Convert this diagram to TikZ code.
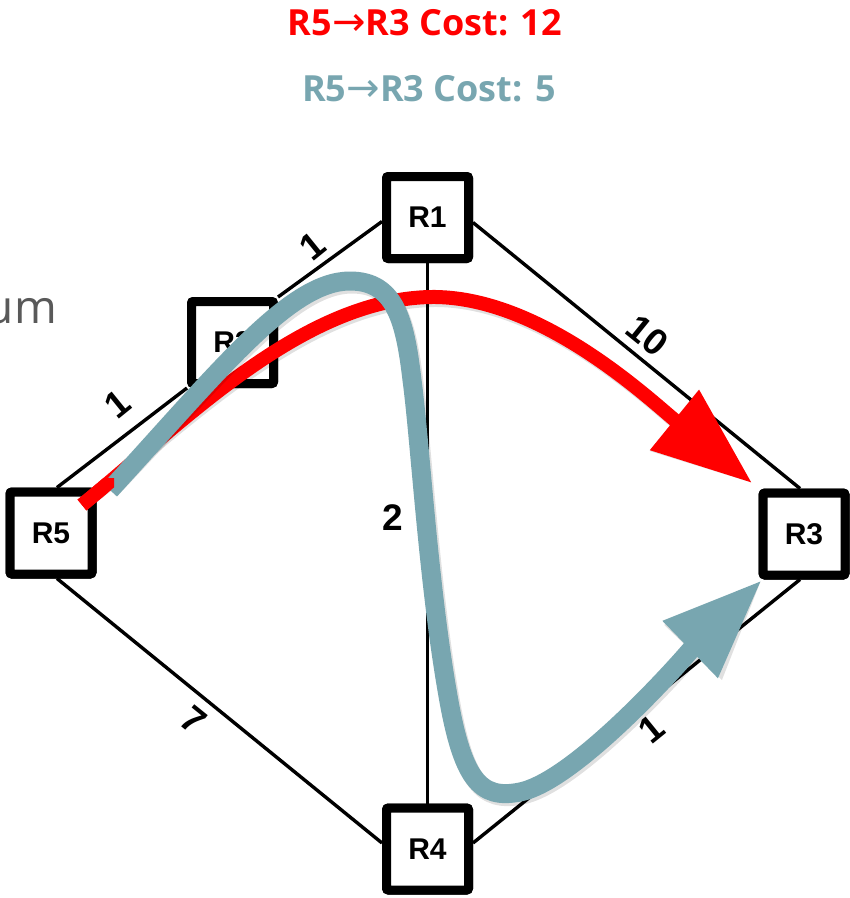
\documentclass[tikz,border=0pt]{standalone}
\usepackage{fontspec}
\setmainfont{Liberation Sans}
\newfontfamily\titlefont{Open Sans}
\newfontfamily\arrowfont{DejaVu Sans}
\usetikzlibrary{arrows.meta}
\definecolor{pathred}{HTML}{FF0000}
\definecolor{pathteal}{HTML}{78A6B0}
\definecolor{umgray}{HTML}{595959}
\newcommand\redroute{(redstart) .. controls (180,425) and (300,300) .. (430,297) .. controls (540,295) and (650,400) .. (redtip)}
\newcommand\tealroute{(tealstart) .. controls (220,370) and (290,281) .. (350,281) .. controls (395,281) and (405,320) .. (412,380) .. controls (420,440) and (428,580) .. (447,690) .. controls (462,780) and (480,800) .. (520,792) .. controls (580,780) and (700,640) .. (tealtip)}
\tikzset{
  rbox/.style={draw, line width=9pt, fill=white, minimum size=82pt, rounded corners=2pt, inner sep=0pt, font=\fontsize{30}{30}\selectfont\bfseries},
  elabel/.style={font=\fontsize{37}{37}\selectfont\bfseries, inner sep=0pt},
  link/.style={line width=3.4pt, black},
  bigtip/.style={-{Triangle[length=100pt,width=74pt]}},
  redline/.style={line width=14pt, pathred},
  tealline/.style={line width=19pt, pathteal},
  shade/.style={black, opacity=0.12, shift={(2,3)}},
  title/.style={font=\fontsize{36}{36}\selectfont\titlefont\bfseries, inner sep=0pt, anchor=base},
  tarrow/.style={}
}
\newcommand\thinarrow{{\arrowfont\mdseries\fontsize{40}{40}\selectfont →}}
\begin{document}
\begin{tikzpicture}[x=1pt,y=-1pt]
\useasboundingbox (0,0) rectangle (850,898);
\clip (0,0) rectangle (850,898);
\fill[white] (0,0) rectangle (850,898);

% titles
\node[title, text=pathred] (t1) at (425,35) {R5\thinarrow R3 Cost: 12};
\node[title, text=pathteal] (t2) at (429,101) {R5\thinarrow R3 Cost: 5};
\node[font=\fontsize{46}{46}\selectfont\titlefont, text=umgray, anchor=base east, inner sep=0pt] (um) at (57,323) {um};

% routers
\node[rbox] (R1) at (427.5,217.5) {R1};
\node[rbox] (R2) at (232.5,342.5) {R2};
\node[rbox] (R3) at (804,534) {R3};
\node[rbox] (R4) at (427.5,849) {R4};
\node[rbox] (R5) at (51,533) {R5};

% links
\draw[link] ([xshift=6pt]R5.north) -- (R2.south west);
\draw[link] (R2.north east) -- ([yshift=-4pt]R1.west);
\draw[link] ([yshift=-5pt]R1.east) -- ([xshift=-4pt]R3.north);
\draw[link] ([xshift=6pt]R5.south) -- ([yshift=6pt]R4.west);
\draw[link] ([yshift=6pt]R4.east) -- ([xshift=-4pt]R3.south);
\draw[link] (R1.south) -- (R4.north);
% routers again on top of the links
\node[rbox] at (R1) {R1};
\node[rbox] at (R2) {R2};
\node[rbox] at (R3) {R3};
\node[rbox] at (R4) {R4};
\node[rbox] at (R5) {R5};

% link costs
\node[elabel, rotate=39] (c52) at (117,404) {1};
\node[elabel, rotate=39] (c21) at (312,246) {1};
\node[elabel, rotate=-39] (c13) at (648,336) {10};
\node[elabel, rotate=-39] (c54) at (194,720) {7};
\node[elabel, rotate=39] (c43) at (651,729) {1};
\node[elabel] (c14) at (393,518) {2};

% routes
\coordinate (redstart) at (82,505);
\coordinate (redtip) at (752,483);
\coordinate (tealstart) at (110,490);
\coordinate (tealtip) at (762,580);

\draw[redline, shade, bigtip] \redroute;
\draw[redline, bigtip] \redroute;
\draw[tealline, shade, bigtip] \tealroute;
\draw[tealline, bigtip] \tealroute;
\begin{scope}
\clip (60,478) rectangle (114,528);
\draw[redline] \redroute;
\end{scope}
\end{tikzpicture}
\end{document}
